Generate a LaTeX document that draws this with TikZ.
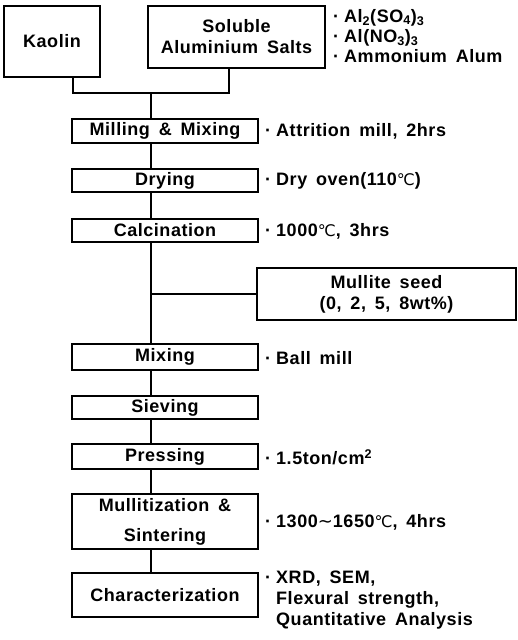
\documentclass[tikz,border=0pt]{standalone}
\usepackage{fontspec}
\setmainfont{Liberation Sans}[LetterSpace=3,WordSpace=1.6]
\newfontfamily\degfont{DejaVu Sans}
\usetikzlibrary{positioning}

\newcommand{\degC}{{\degfont\mdseries\fontsize{16}{16}\selectfont ℃}}
\newcommand{\tld}{{\degfont\mdseries ∼}}
\newcommand{\dotmark}{·\hspace{5pt}}

\begin{document}
\begin{tikzpicture}[x=1pt,y=-1pt,
		every node/.style={font=\bfseries\fontsize{18}{21}\selectfont},
		box/.style={draw, line width=1.8pt, align=center, inner sep=0pt, minimum width=186pt},
		note/.style={anchor=west, align=left, inner sep=0pt},
		link/.style={line width=1.8pt}]
		\useasboundingbox (0,0) rectangle (517,640);
		
		% Starting materials
		\node[box, minimum width=96pt, minimum height=71pt] (kaolin) at (52,41.5) {Kaolin};
		\node[box, minimum width=177pt, minimum height=62pt] (salts) at (236.5,37) {Soluble\\Aluminium Salts};
		\node[note, anchor=north west, font=\bfseries\fontsize{18}{20}\selectfont] (saltlist) at (333,9)
		{\dotmark Al\textsubscript{2}(SO\textsubscript{4})\textsubscript{3}\\\dotmark Al(NO\textsubscript{3})\textsubscript{3}\\\dotmark Ammonium Alum};
		
		% Process steps
		\node[box, minimum height=24pt] (mill) at (165,131) {Milling \& Mixing};
		\node[box, minimum height=23pt] (dry) at (165,180.5) {Drying};
		\node[box, minimum height=23pt] (calc) at (165,230.5) {Calcination};
		\node[box, minimum width=259pt, minimum height=52pt] (seed) at (386.5,294) {Mullite seed\\(0, 2, 5, 8wt\%)};
		\node[box, minimum height=26pt] (mix) at (165,357) {Mixing};
		\node[box, minimum height=23pt] (sieve) at (165,407.5) {Sieving};
		\node[box, minimum height=25pt] (press) at (165,456.5) {Pressing};
		\node[box, minimum height=55pt] (sinter) at (165,521.5) {Mullitization \&\\[9pt]Sintering};
		\node[box, minimum height=44pt] (char) at (165,595) {Characterization};
		
		% Conditions
		\node[note] (millnote) at (265,131) {\dotmark Attrition mill, 2hrs};
		\node[note] (drynote) at (265,181) {\dotmark Dry oven(110\degC)};
		\node[note] (calcnote) at (265,231) {\dotmark 1000\degC, 3hrs};
		\node[note] (mixnote) at (265,358) {\dotmark Ball mill};
		\node[note] (pressnote) at (265,457) {\dotmark 1.5ton/cm\textsuperscript{2}};
		\node[note] (sinternote) at (265,522) {\dotmark 1300\tld1650\degC, 4hrs};
		\node[note] (charnote) at (265,600) {\dotmark XRD, SEM,\\\phantom{\dotmark}Flexural strength,\\\phantom{\dotmark}Quantitative Analysis};
		
		% Connectors
		\coordinate (join) at (151,93);
		\draw[link] ([xshift=21pt]kaolin.south) |- (join) -| ([xshift=-7.5pt]salts.south);
		\draw[link] (join) -- (mill.north -| join);
		\foreach \a/\b in {mill/dry, dry/calc, calc/mix, mix/sieve, sieve/press, press/sinter, sinter/char} {
			\draw[link] (\a.south -| join) -- (\b.north -| join);
		}
		\draw[link] (seed.west) -- (seed.west -| join);
		
	\end{tikzpicture}
\end{document}
